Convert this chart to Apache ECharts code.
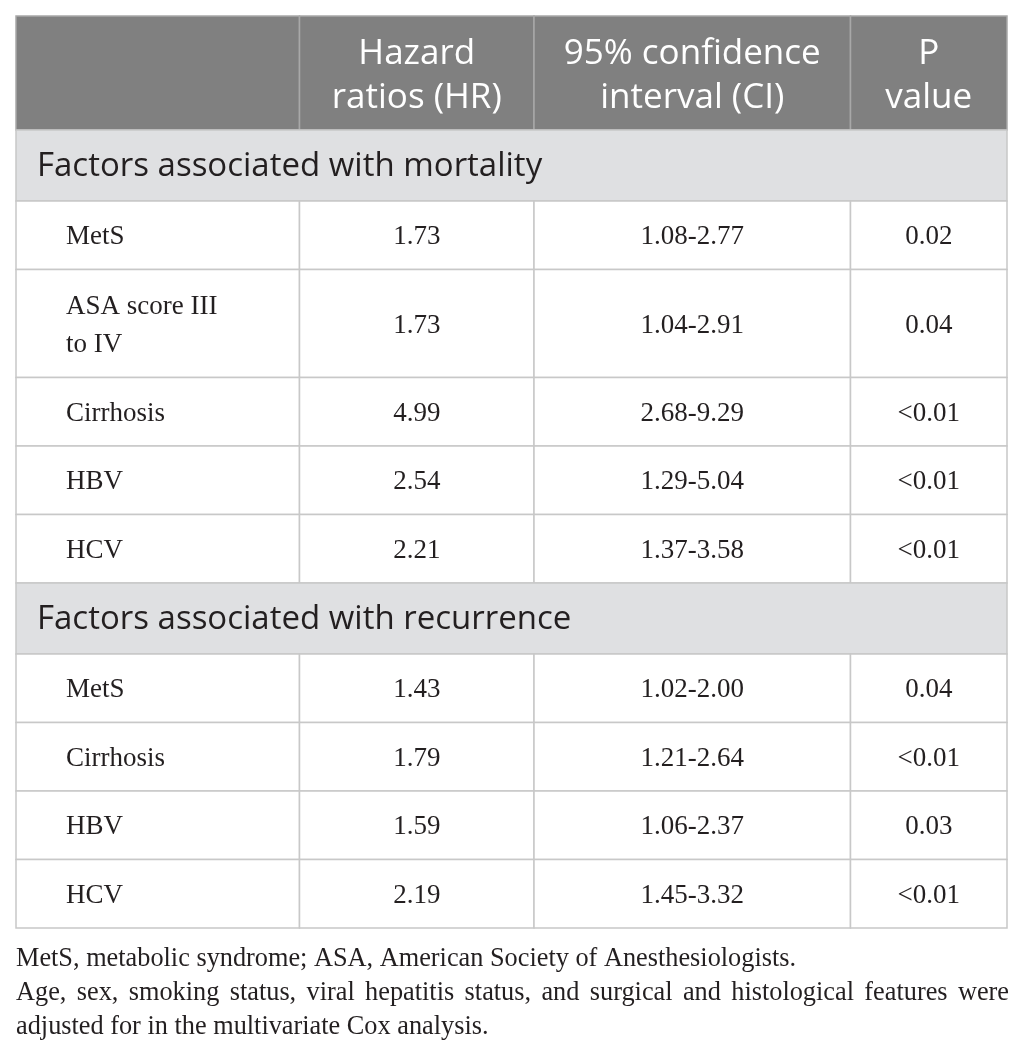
<!DOCTYPE html>
<html>
<head>
<meta charset="utf-8">
<script src="https://cdn.jsdelivr.net/npm/echarts@6/dist/echarts.min.js"></script>
<style>
html,body{margin:0;padding:0;background:#fff;}
#chart{width:1026px;height:1055px;}
</style>
</head>
<body>
<div id="chart"></div>
<script>
// ---- data ----
const headers = ['', 'Hazard\nratios (HR)', '95% confidence\ninterval (CI)', 'P\nvalue'];
const sections = ['Factors associated with mortality', 'Factors associated with recurrence'];
const mortalityFactors = ['MetS', 'ASA score III\nto IV', 'Cirrhosis', 'HBV', 'HCV'];
const mortalityHR = [1.73, 1.73, 4.99, 2.54, 2.21];
const mortalityCI = ['1.08-2.77', '1.04-2.91', '2.68-9.29', '1.29-5.04', '1.37-3.58'];
const mortalityP = ['0.02', '0.04', '<0.01', '<0.01', '<0.01'];
const recurrenceFactors = ['MetS', 'Cirrhosis', 'HBV', 'HCV'];
const recurrenceHR = [1.43, 1.79, 1.59, 2.19];
const recurrenceCI = ['1.02-2.00', '1.21-2.64', '1.06-2.37', '1.45-3.32'];
const recurrenceP = ['0.04', '<0.01', '0.03', '<0.01'];
const footnotes = [
  'MetS, metabolic syndrome; ASA, American Society of Anesthesiologists.',
  'Age, sex, smoking status, viral hepatitis status, and surgical and histological features were',
  'adjusted for in the multivariate Cox analysis.'
];
const justifiedFootnote = [false, true, false];

// ---- layout (not data) ----
const colEdges = [0, 283.5, 518, 834.5, 991];
const HEADER_H = 114, SECTION_H = 71, ROW_H = 68.5, ROW2_H = 108;
const FOOT_LEFT = 16, FOOT_RIGHT = 1009, FOOT_TOP = 946, FOOT_STEP = 34, FOOT_SIZE = 26.3;
const FOOT_FONT = 'Liberation Serif';

// build cells
const cells = [];
let y = 0;
function addRow(h, items) { items.forEach(it => cells.push(Object.assign({ r0: y, r1: y + h }, it))); y += h; }
addRow(HEADER_H, headers.map((t, i) => ({ c0: colEdges[i], c1: colEdges[i + 1], text: t, kind: 'header', col: i })));
function addGroup(title, factors, hr, ci, p) {
  addRow(SECTION_H, [{ c0: colEdges[0], c1: colEdges[4], text: title, kind: 'section', col: 0 }]);
  factors.forEach((f, i) => {
    const h = f.indexOf('\n') >= 0 ? ROW2_H : ROW_H;
    const vals = [f, hr[i].toFixed(2), ci[i], p[i]];
    addRow(h, vals.map((t, c) => ({ c0: colEdges[c], c1: colEdges[c + 1], text: t, kind: 'body', col: c })));
  });
}
addGroup(sections[0], mortalityFactors, mortalityHR, mortalityCI, mortalityP);
addGroup(sections[1], recurrenceFactors, recurrenceHR, recurrenceCI, recurrenceP);
const totalH = y;

const chart = echarts.init(document.getElementById('chart'), null, { renderer: 'canvas' });

function renderItem(params, api) {
  const cell = cells[params.dataIndex];
  const p0 = api.coord([api.value(0), api.value(2)]);
  const p1 = api.coord([api.value(1), api.value(3)]);
  const x = p0[0], yy = p0[1], w = p1[0] - p0[0], h = p1[1] - p0[1];
  let fill = '#ffffff', stroke = '#c8c8c8';
  let font = { fontFamily: 'Liberation Serif', fontSize: 27, fill: '#231f20', lineHeight: 38 };
  let align = 'center', tx = x + w / 2, dy = 2;
  if (cell.kind === 'header') {
    fill = '#808080'; stroke = '#a8a8a8'; dy = 3;
    font = { fontFamily: 'Open Sans', fontSize: 35, fill: '#ffffff', lineHeight: 44 };
  } else if (cell.kind === 'section') {
    fill = '#dfe0e2'; dy = 1;
    font = { fontFamily: 'Open Sans', fontSize: 33, fill: '#231f20', lineHeight: 40 };
    align = 'left'; tx = x + 21;
  } else if (cell.col === 0) {
    align = 'left'; tx = x + 50;
  }
  return {
    type: 'group',
    children: [
      { type: 'rect', shape: { x: x, y: yy, width: w, height: h }, style: { fill: fill, stroke: stroke, lineWidth: 1.5 } },
      { type: 'text', x: tx, y: yy + h / 2 + dy, style: Object.assign({ text: cell.text, align: align, verticalAlign: 'middle' }, font) }
    ]
  };
}

// footnote text elements (line 2 justified across the table width)
const measureCtx = document.createElement('canvas').getContext('2d');
measureCtx.font = FOOT_SIZE + 'px "' + FOOT_FONT + '"';
const footGraphics = [];
footnotes.forEach((t, i) => {
  const top = FOOT_TOP + i * FOOT_STEP;
  const style = { fontFamily: FOOT_FONT, fontSize: FOOT_SIZE, fill: '#231f20' };
  if (!justifiedFootnote[i]) {
    footGraphics.push({ type: 'text', left: FOOT_LEFT, top: top, style: Object.assign({ text: t }, style) });
    return;
  }
  const words = t.split(' ');
  const widths = words.map(wd => measureCtx.measureText(wd).width);
  const sum = widths.reduce((a, b) => a + b, 0);
  const gap = (FOOT_RIGHT - FOOT_LEFT - sum) / (words.length - 1);
  let x = FOOT_LEFT;
  words.forEach((wd, k) => {
    footGraphics.push({ type: 'text', x: x, y: top, style: Object.assign({ text: wd, verticalAlign: 'top' }, style) });
    x += widths[k] + gap;
  });
});

chart.setOption({
  animation: false,
  backgroundColor: '#ffffff',
  grid: { left: 16, top: 16, width: 991, height: totalH },
  xAxis: { type: 'value', min: 0, max: colEdges[colEdges.length - 1], show: false },
  yAxis: { type: 'value', min: 0, max: totalH, inverse: true, show: false },
  series: [{
    type: 'custom',
    renderItem: renderItem,
    encode: { x: [0, 1], y: [2, 3] },
    data: cells.map(c => [c.c0, c.c1, c.r0, c.r1])
  }],
  graphic: footGraphics
});
</script>
</body>
</html>
